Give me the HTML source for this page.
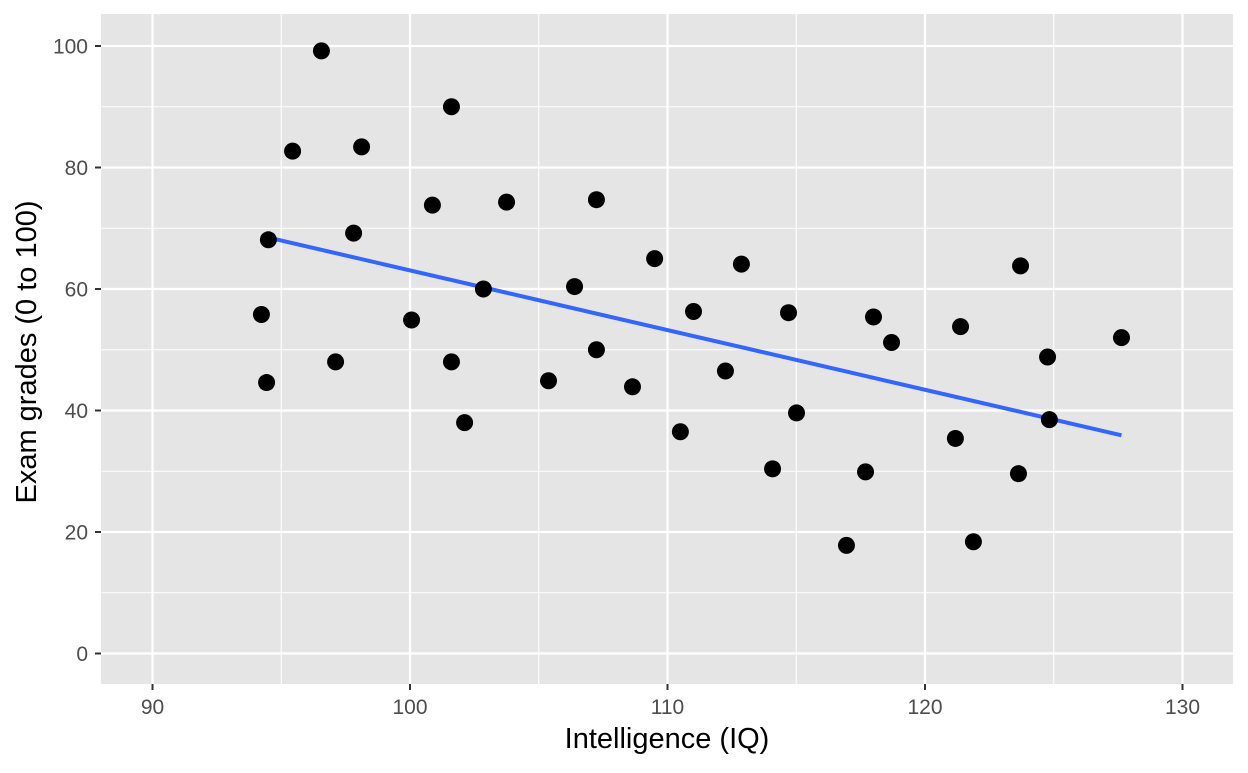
<!DOCTYPE html>
<html><head><meta charset="utf-8"><style>
html,body{margin:0;padding:0;background:#fff;}
svg text{font-family:"Liberation Sans",Arial,sans-serif;}
</style></head><body>
<svg id="chart" width="1248" height="768" xmlns="http://www.w3.org/2000/svg">
<rect x="0" y="0" width="1248" height="768" fill="#fff"/>
<rect id="panel" x="101" y="14" width="1132" height="670" fill="#e5e5e5"/>
<g id="grid"></g>
<g id="line"></g>
<g id="points"></g>
<g id="axes"></g>
<text x="667" y="748" text-anchor="middle" font-size="29" fill="#000">Intelligence (IQ)</text>
<text transform="translate(36,352) rotate(-90)" text-anchor="middle" font-size="29" fill="#000">Exam grades (0 to 100)</text>
</svg>
<script>
const iq=[96.56,95.44,98.12,101.61,100.87,103.75,107.24,94.50,97.81,94.23,94.43,97.11,100.06,102.85,101.61,102.12,105.38,106.39,107.24,109.50,108.64,110.50,111.01,112.87,112.25,114.70,114.08,115.01,116.95,117.69,118.0,118.70,121.38,121.18,121.88,123.71,123.63,124.76,124.83,127.63];
const grades=[99.2,82.7,83.4,90.0,73.8,74.3,74.7,68.1,69.2,55.8,44.6,48.0,54.9,60.0,48.0,38.0,44.9,60.4,50.0,65.0,43.9,36.5,56.3,64.1,46.5,56.1,30.4,39.6,17.8,29.9,55.4,51.2,53.8,35.4,18.4,63.8,29.6,48.8,38.5,52.0];
const xTicks=[90,100,110,120,130];
const xMinor=[95,105,115,125];
const yTicks=[0,20,40,60,80,100];
const yMinor=[10,30,50,70,90];

const NS="http://www.w3.org/2000/svg";
const sx=v=>152.5+(v-90)*25.75;
const sy=v=>653.5-v*6.075;
const L=101,R=1233,T=14,B=684;
function mk(tag,attrs,parent){const e=document.createElementNS(NS,tag);for(const k in attrs)e.setAttribute(k,attrs[k]);parent.appendChild(e);return e;}
const grid=document.getElementById('grid'),axes=document.getElementById('axes');
xMinor.forEach(v=>{const e=mk('line',{x1:sx(v),x2:sx(v),y1:T,y2:B,stroke:'#fff','stroke-width':1.1},grid);

});
yMinor.forEach(v=>{const e=mk('line',{x1:L,x2:R,y1:sy(v),y2:sy(v),stroke:'#fff','stroke-width':1.1},grid);

});
xTicks.forEach(v=>{const e=mk('line',{x1:sx(v),x2:sx(v),y1:T,y2:B,stroke:'#fff','stroke-width':2.2},grid);


const t=mk('line',{x1:sx(v),x2:sx(v),y1:B,y2:B+6,stroke:'#333','stroke-width':2},axes);


const l=mk('text',{x:sx(v),y:B+30,'text-anchor':'middle','font-size':21,fill:'#4d4d4d'},axes);l.textContent=v;

});
yTicks.forEach(v=>{const e=mk('line',{x1:L,x2:R,y1:sy(v),y2:sy(v),stroke:'#fff','stroke-width':2.2},grid);


const t=mk('line',{x1:L-6,x2:L,y1:sy(v),y2:sy(v),stroke:'#333','stroke-width':2},axes);


const l=mk('text',{x:L-13,y:sy(v)+7.5,'text-anchor':'end','font-size':21,fill:'#4d4d4d'},axes);l.textContent=v;

});
const n=iq.length;let mx=0,my=0;for(let i=0;i<n;i++){mx+=iq[i];my+=grades[i];}mx/=n;my/=n;
let sxy=0,sxx=0;for(let i=0;i<n;i++){sxy+=(iq[i]-mx)*(grades[i]-my);sxx+=(iq[i]-mx)**2;}
const b=sxy/sxx,a=my-b*mx;const x0=Math.min(...iq),x1=Math.max(...iq);
const ln=mk('line',{x1:sx(x0),y1:sy(a+b*x0),x2:sx(x1),y2:sy(a+b*x1),stroke:'#3366ff','stroke-width':4},document.getElementById('line'));


const pts=document.getElementById('points');
iq.forEach((v,i)=>{const c=mk('circle',{cx:sx(v),cy:sy(grades[i]),r:8.5,fill:'#000'},pts);

});
</script>
</body></html>
